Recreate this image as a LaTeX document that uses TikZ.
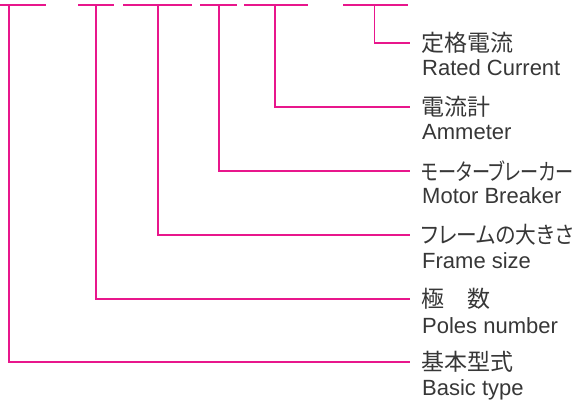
\documentclass[tikz,border=0pt]{standalone}
\usepackage{fontspec}
\setmainfont{Liberation Sans}
\newfontfamily\jpfont[RawFeature=+palt]{Noto Sans CJK JP}
\definecolor{pk}{RGB}{232,22,140}
\definecolor{tx}{RGB}{55,55,55}
\newcommand{\fitw}[2]{\resizebox{#1}{\height}{#2}}
\begin{document}
\begin{tikzpicture}[x=1pt,y=-1pt,
  wire/.style={draw=pk, line width=1.4pt},
  jp/.style={anchor=west, inner xsep=11pt, inner ysep=0pt, font=\jpfont\fontsize{23}{23}\selectfont, text=tx},
  en/.style={anchor=base west, inner sep=0pt, font=\fontsize{22}{22}\selectfont, text=tx}]
\useasboundingbox (0,0) rectangle (575,403);

% top bars
\coordinate (a1) at (0,5);     \coordinate (b1) at (45.7,5);
\coordinate (a2) at (78,5);    \coordinate (b2) at (114,5);
\coordinate (a3) at (123,5);   \coordinate (b3) at (192,5);
\coordinate (a4) at (200,5);   \coordinate (b4) at (237,5);
\coordinate (a5) at (244,5);   \coordinate (b5) at (308.3,5);
\coordinate (a6) at (343.3,5); \coordinate (b6) at (407.7,5);
\foreach \i in {1,...,6} {\draw[wire] (a\i) -- (b\i);}

% drop points
\coordinate (t1) at (9,5);
\coordinate (t2) at (96,5);
\coordinate (t3) at (158,5);
\coordinate (t4) at (219,5);
\coordinate (t5) at (275,5);
\coordinate (t6) at (374.3,5);

% labels
\node[jp] (rj) at (410,43) {定格電流};
\node[en] (re) at (422,76) {Rated Current};
\node[jp] (aj) at (410,107) {電流計};
\node[en] (ae) at (422,140) {Ammeter};
\node[jp] (mj) at (410,171) {\fitw{152pt}{モーターブレーカー}};
\node[en] (me) at (422,204) {Motor Breaker};
\node[jp] (fj) at (410,235) {\fitw{152pt}{フレームの大きさ}};
\node[en] (fe) at (422,268) {Frame size};
\node[jp] (pj) at (410,299) {極　数};
\node[en] (pe) at (422,333) {Poles number};
\node[jp] (bj) at (410,362) {基本型式};
\node[en] (be) at (422,395) {Basic type};

% connectors
\draw[wire] (t1) |- (bj.west);
\draw[wire] (t2) |- (pj.west);
\draw[wire] (t3) |- (fj.west);
\draw[wire] (t4) |- (mj.west);
\draw[wire] (t5) |- (aj.west);
\draw[wire] (t6) |- (rj.west);
\end{tikzpicture}
\end{document}
